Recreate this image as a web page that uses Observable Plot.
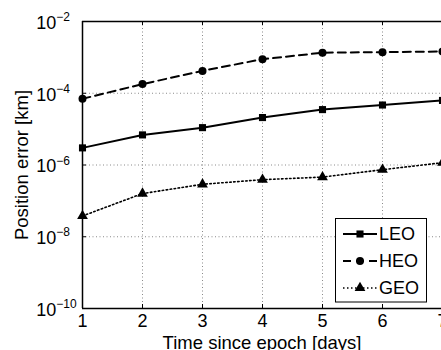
<!DOCTYPE html>
<html>
<head>
<meta charset="utf-8">
<script src="https://cdn.jsdelivr.net/npm/d3@7"></script>
<script src="https://cdn.jsdelivr.net/npm/@observablehq/plot@0.6"></script>
<style>
  html, body { margin: 0; padding: 0; background: #fff; }
  #chart { width: 441px; height: 350px; overflow: hidden; }
</style>
</head>
<body>
<div id="chart"></div>
<script>
// ---- data ----
const days = [1, 2, 3, 4, 5, 6, 7];
const leo = [3.0e-6, 6.9e-6, 1.1e-5, 2.1e-5, 3.5e-5, 4.7e-5, 6.3e-5];
const heo = [7.0e-5, 1.8e-4, 4.2e-4, 8.9e-4, 1.35e-3, 1.4e-3, 1.46e-3];
const geo = [3.8e-8, 1.6e-7, 2.9e-7, 3.9e-7, 4.6e-7, 7.4e-7, 1.16e-6];
const seriesNames = ["LEO", "HEO", "GEO"];
const yTicks = [1e-2, 1e-4, 1e-6, 1e-8, 1e-10];
const yTickExponents = ["\u22122", "\u22124", "\u22126", "\u22128", "\u221210"];
const xTicks = [1, 2, 3, 4, 5, 6, 7];
const xLabel = "Time since epoch [days]";
const yLabel = "Position error [km]";

// ---- styles ----
const FONT = "'Liberation Sans', Arial, Helvetica, sans-serif";
const styles = {
  LEO: {dash: null, width: 2, symbol: "square"},
  HEO: {dash: "8,5", width: 2, symbol: "circle"},
  GEO: {dash: "1.5,2.5", width: 1.6, symbol: "triangle"}
};
const values = {LEO: leo, HEO: heo, GEO: geo};
const rows = seriesNames.flatMap(s => days.map((d, i) => ({series: s, day: d, value: values[s][i]})));
const yTickRows = yTicks.map((v, i) => ({v, exp: yTickExponents[i]}));
const R = 4;

const marks = [];
// grid
marks.push(Plot.ruleX(xTicks.slice(1, -1), {stroke: "#8a8a8a", strokeWidth: 1, strokeDasharray: "1,2.5"}));
marks.push(Plot.ruleY(yTicks.slice(1, -1), {stroke: "#8a8a8a", strokeWidth: 1, strokeDasharray: "1,2.5"}));
// inner ticks
marks.push(Plot.ruleX(xTicks, {stroke: "#000", insetTop: 283}));
marks.push(Plot.ruleX(xTicks, {stroke: "#000", insetBottom: 283}));
marks.push(Plot.ruleY(yTicks, {stroke: "#000", insetRight: 355}));
// series
for (const s of seriesNames) {
  const st = styles[s];
  const data = rows.filter(r => r.series === s);
  marks.push(Plot.line(data, {x: "day", y: "value", stroke: "#000", strokeWidth: st.width, strokeDasharray: st.dash}));
  marks.push(Plot.dot(data, {x: "day", y: "value", symbol: () => st.symbol, fill: "#000", stroke: "none", r: R}));
}
// frame
marks.push(Plot.ruleX([1], {stroke: "#000", strokeWidth: 1.5}));
marks.push(Plot.ruleY([1e-10, 1e-2], {stroke: "#000", strokeWidth: 1.5}));
// x axis labels
marks.push(Plot.axisX(xTicks, {tickSize: 0, tickPadding: 6, tickFormat: d => String(d), label: null, fontSize: 18, fill: "#000"}));
// y tick labels 10^n
marks.push(Plot.text(yTickRows, {y: "v", text: () => "10", frameAnchor: "left", textAnchor: "start", dx: -46.3, dy: 1.5, fontSize: 18, fill: "#000"}));
marks.push(Plot.text(yTickRows, {y: "v", text: "exp", frameAnchor: "left", textAnchor: "start", dx: -26.3, dy: -4.1, fontSize: 12, fill: "#000"}));
// axis labels
marks.push(Plot.text([xLabel], {frameAnchor: "bottom", textAnchor: "middle", lineAnchor: "bottom", dy: 40, fontSize: 18.5, fill: "#000"}));
marks.push(Plot.text([yLabel], {frameAnchor: "left", textAnchor: "middle", rotate: -90, lineAnchor: "bottom", dx: -55, fontSize: 18.5, fill: "#000"}));

const plot = Plot.plot({
  width: 441,
  height: 350,
  marginLeft: 82,
  marginRight: 0,
  marginTop: 21,
  marginBottom: 42,
  style: {fontFamily: FONT, fontSize: "18px", background: "#fff", color: "#000", overflow: "hidden"},
  x: {domain: [1, 7], range: [82, 442], axis: null},
  y: {type: "log", domain: [1e-10, 1e-2], axis: null},
  marks
});
document.getElementById("chart").appendChild(plot);

// ---- legend (inside axes, lower right) ----
const svg = d3.select(plot);
const lg = svg.append("g").attr("font-family", FONT).attr("font-size", 18).attr("text-anchor", "start");
lg.append("rect").attr("x", 335.5).attr("y", 218.5).attr("width", 91).attr("height", 83.5)
  .attr("fill", "#fff").attr("stroke", "#000").attr("stroke-width", 1);
const symMap = {square: d3.symbolSquare, circle: d3.symbolCircle, triangle: d3.symbolTriangle};
seriesNames.forEach((s, i) => {
  const st = styles[s];
  const cy = 234 + i * 27;
  const row = lg.append("g");
  row.append("line").attr("x1", 343).attr("x2", 377).attr("y1", cy).attr("y2", cy)
    .attr("stroke", "#000").attr("stroke-width", st.width)
    .attr("stroke-dasharray", st.dash);
  row.append("path").attr("transform", `translate(360,${cy})`)
    .attr("d", d3.symbol(symMap[st.symbol], Math.PI * R * R)()).attr("fill", "#000");
  row.append("text").attr("x", 379).attr("y", cy).attr("dy", "0.35em").attr("fill", "#000").text(s);
});
</script>
</body>
</html>
